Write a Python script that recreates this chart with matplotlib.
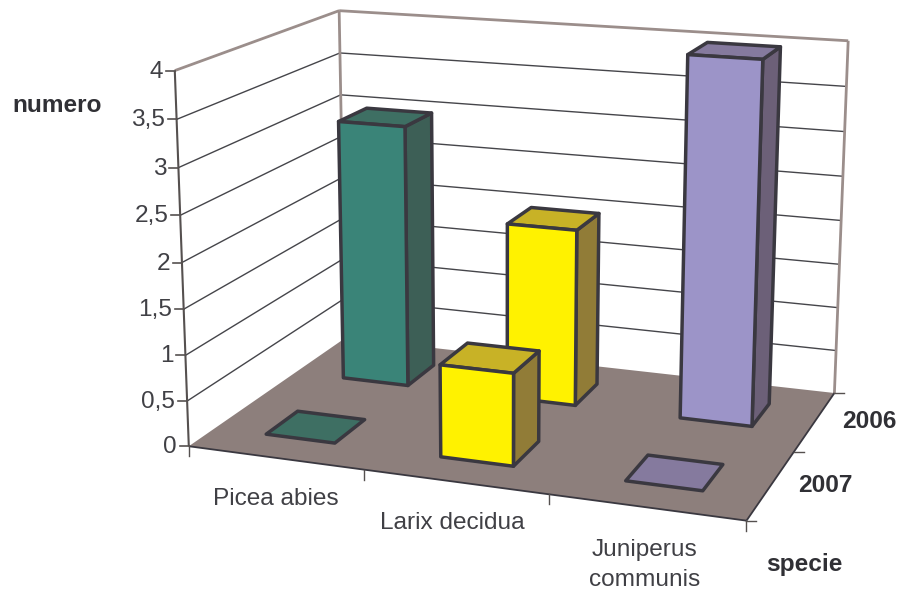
import numpy as np
import matplotlib
matplotlib.use("Agg")
import matplotlib.pyplot as plt
from matplotlib.patches import Polygon

categories = ["Picea abies", "Larix decidua", "Juniperus\ncommunis"]
series = ["2007", "2006"]
values_2007 = [0, 1, 0]
values_2006 = [3, 2, 4]
y_ticks = [0, 0.5, 1, 1.5, 2, 2.5, 3, 3.5, 4]
y_labels = ["0", "0,5", "1", "1,5", "2", "2,5", "3", "3,5", "4"]

front_cols = ["#3A8478", "#FFF200", "#9C94C8"]
side_cols = ["#3D5F56", "#917C37", "#6C6078"]
top_cols = ["#3E6F63", "#C8B226", "#857A9E"]
FLOOR = "#8D7F7C"
FRAME = "#9B8E8B"
EDGE = "#3A3840"
TEXT = "#404045"
GRID = "#45454A"

plt.rcParams["font.family"] = ["Liberation Sans", "DejaVu Sans"]

# Perspective camera fitted to the chart box corners (x: 0..3, y: 0..2, z: 0..4)
box3d = np.array([(0, 0, 0), (3, 0, 0), (3, 2, 0), (0, 2, 0), (0, 0, 4), (0, 2, 4), (3, 2, 4)], float)
box2d = np.array([(190, 446.5), (746, 521), (835, 392.5), (344, 338), (174, 70), (340, 11), (848, 41)], float)
A = []
for (X, Y, Z), (u, v) in zip(box3d, box2d):
    A.append([X, Y, Z, 1, 0, 0, 0, 0, -u * X, -u * Y, -u * Z, -u])
    A.append([0, 0, 0, 0, X, Y, Z, 1, -v * X, -v * Y, -v * Z, -v])
P = np.linalg.svd(np.array(A))[2][-1].reshape(3, 4)


def proj(x, y, z):
    h = P @ np.array([x, y, z, 1.0])
    return h[0] / h[2], h[1] / h[2]


fig = plt.figure(figsize=(9.03, 5.94), dpi=100)
ax = fig.add_axes([0, 0, 1, 1])
ax.set_xlim(0, 903)
ax.set_ylim(594, 0)
ax.axis("off")


def line(a, b, color, lw, z=1):
    pa, pb = proj(*a), proj(*b)
    ax.plot([pa[0], pb[0]], [pa[1], pb[1]], color=color, lw=lw, zorder=z, solid_capstyle="butt")


def face(pts, color, z, edge=EDGE, lw=2.5):
    ax.add_patch(Polygon([proj(*p) for p in pts], closed=True, facecolor=color,
                         edgecolor=edge, lw=lw, zorder=z, joinstyle="round"))


# floor
face([(0, 0, 0), (3, 0, 0), (3, 2, 0), (0, 2, 0)], FLOOR, 1, edge="none", lw=0)

# grid lines on walls
for t in y_ticks[1:-1]:
    line((0, 0, t), (0, 2, t), GRID, 1.0)
    line((0, 2, t), (3, 2, t), GRID, 1.0)

# wall frame
line((0, 0, 4), (0, 2, 4), FRAME, 2)
line((0, 2, 4), (3, 2, 4), FRAME, 2)
line((0, 2, 4), (0, 2, 0), FRAME, 2)
line((3, 2, 4), (3, 2, 0), FRAME, 2)

# axis lines and ticks
line((0, 0, 0), (0, 0, 4), "#55504F", 1.5, 2)
line((0, 0, 0), (3, 0, 0), "#3A3840", 1.3, 2)
line((3, 0, 0), (3, 2, 0), "#3A3840", 1.3, 2)
for t, lab in zip(y_ticks, y_labels):
    u, v = proj(0, 0, t)
    ax.plot([u - 9, u], [v, v], color="#55504F", lw=1.2, zorder=2)
    ax.text(u - 12, v + 1, lab, ha="right", va="center", fontsize=17.6, color=TEXT)
for i in range(4):
    u, v = proj(i, 0, 0)
    ax.plot([u, u], [v, v + 10], color="#55504F", lw=1.0, zorder=2)
for j in range(3):
    u, v = proj(3, j, 0)
    ax.plot([u, u + 10], [v, v], color="#55504F", lw=1.0, zorder=2)

# bars, back row first
HW, HD = 0.2, 0.195
rows = [(1, values_2006), (0, values_2007)]
z = 3
for row, vals in rows:
    for i, val in enumerate(vals):
        cx, cy = i + 0.5, row + 0.5
        x0, x1 = cx - HW, cx + HW
        y0, y1 = cy - HD, cy + HD
        if val > 0:
            face([(x1, y0, 0), (x1, y1, 0), (x1, y1, val), (x1, y0, val)], side_cols[i], z)
            face([(x0, y0, val), (x1, y0, val), (x1, y1, val), (x0, y1, val)], top_cols[i], z)
            face([(x0, y0, 0), (x1, y0, 0), (x1, y0, val), (x0, y0, val)], front_cols[i], z)
        else:
            face([(x0, y0, 0), (x1, y0, 0), (x1, y1, 0), (x0, y1, 0)], top_cols[i], z)
        z += 1

# category labels
ax.text(276, 499, categories[0], ha="center", va="center", fontsize=17.6, color=TEXT)
ax.text(452, 523, categories[1], ha="center", va="center", fontsize=17.6, color=TEXT)
ax.text(645, 565, categories[2], ha="center", va="center", fontsize=17.6, color=TEXT, linespacing=1.52)

# bold labels
ax.text(12, 105, "numero", ha="left", va="center", fontsize=17.6, color="#303035", weight="bold")
ax.text(869, 422, series[1], ha="center", va="center", fontsize=17.6, color="#303035", weight="bold")
ax.text(825, 486, series[0], ha="center", va="center", fontsize=17.6, color="#303035", weight="bold")
ax.text(804, 565, "specie", ha="center", va="center", fontsize=17.6, color="#303035", weight="bold")

fig.savefig("out.png", dpi=100)
